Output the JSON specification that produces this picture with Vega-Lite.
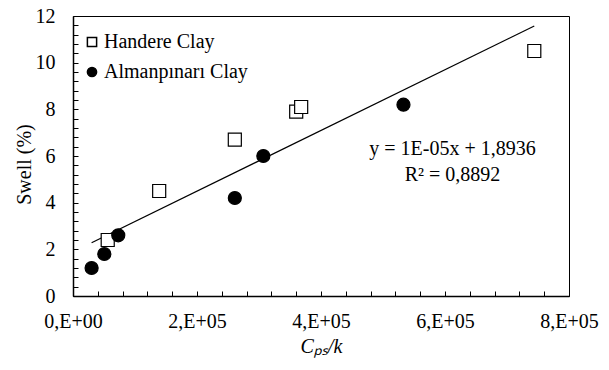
{
  "$schema": "https://vega.github.io/schema/vega-lite/v6.json",
  "width": 496,
  "height": 280,
  "autosize": {"type": "none"},
  "padding": {"left": 73, "top": 16, "right": 40, "bottom": 74},
  "background": "white",
  "config": {
    "font": "Liberation Serif",
    "view": {"stroke": "black", "strokeWidth": 1},
    "style": {
      "guide-label": {"font": "Liberation Serif", "fontSize": 20, "fill": "black"},
      "guide-title": {"font": "Liberation Serif", "fontSize": 20, "fill": "black", "fontWeight": "normal"}
    },
    "axis": {
      "grid": false,
      "domainColor": "black",
      "domainWidth": 1.5,
      "tickColor": "black",
      "tickWidth": 1,
      "tickSize": -5,
      "labelFont": "Liberation Serif",
      "labelColor": "black",
      "labelFontSize": 20,
      "labelFlush": false,
      "labelOverlap": false,
      "titleFont": "Liberation Serif",
      "titleColor": "black",
      "titleFontSize": 20,
      "titleFontWeight": "normal"
    },
    "legend": {
      "labelFont": "Liberation Serif",
      "labelFontSize": 20,
      "labelColor": "black"
    }
  },
  "data": {
    "values": [
      {"series": "Handere Clay", "cpsk": 56000, "swell": 2.4},
      {"series": "Handere Clay", "cpsk": 139000, "swell": 4.5},
      {"series": "Handere Clay", "cpsk": 261000, "swell": 6.7},
      {"series": "Handere Clay", "cpsk": 360000, "swell": 7.9},
      {"series": "Handere Clay", "cpsk": 368000, "swell": 8.1},
      {"series": "Handere Clay", "cpsk": 744000, "swell": 10.5},
      {"series": "Almanpınarı Clay", "cpsk": 30000, "swell": 1.2},
      {"series": "Almanpınarı Clay", "cpsk": 50500, "swell": 1.8},
      {"series": "Almanpınarı Clay", "cpsk": 73000, "swell": 2.6},
      {"series": "Almanpınarı Clay", "cpsk": 261000, "swell": 4.2},
      {"series": "Almanpınarı Clay", "cpsk": 307000, "swell": 6.0},
      {"series": "Almanpınarı Clay", "cpsk": 533000, "swell": 8.2}
    ]
  },
  "encoding": {
    "x": {
      "field": "cpsk",
      "type": "quantitative",
      "scale": {"domain": [0, 800000], "nice": false, "zero": false},
      "axis": {
        "title": "Cₚₛ/k",
        "titleFont": "Liberation Serif",
        "titleFontSize": 20,
        "titleFontStyle": "italic",
        "titlePadding": 5,
        "labelFont": "Liberation Serif",
        "labelFontSize": 20,
        "labelPadding": 20,
        "values": [0, 40000, 80000, 120000, 160000, 200000, 240000, 280000, 320000, 360000, 400000, 440000, 480000, 520000, 560000, 600000, 640000, 680000, 720000, 760000, 800000],
        "labelExpr": "datum.value % 200000 == 0 ? (datum.value == 0 ? '0,E+00' : (datum.value / 100000) + ',E+05') : ''"
      }
    },
    "y": {
      "field": "swell",
      "type": "quantitative",
      "scale": {"domain": [0, 12], "nice": false},
      "axis": {
        "title": "Swell (%)",
        "titleFont": "Liberation Serif",
        "titleFontSize": 20,
        "titlePadding": 1,
        "titleY": 148,
        "labelFont": "Liberation Serif",
        "labelFontSize": 20,
        "labelPadding": 23,
        "values": [0, 0.4, 0.8, 1.2, 1.6, 2, 2.4, 2.8, 3.2, 3.6, 4, 4.4, 4.8, 5.2, 5.6, 6, 6.4, 6.8, 7.2, 7.6, 8, 8.4, 8.8, 9.2, 9.6, 10, 10.4, 10.8, 11.2, 11.6, 12],
        "labelExpr": "abs(datum.value / 2 - round(datum.value / 2)) < 0.001 ? format(datum.value, 'd') : ''"
      }
    }
  },
  "layer": [
    {
      "transform": [{"regression": "swell", "on": "cpsk"}],
      "mark": {"type": "line", "color": "black", "strokeWidth": 1.2},
      "encoding": {}
    },
    {
      "mark": {"type": "point", "filled": false, "stroke": "black", "strokeWidth": 1.2, "opacity": 1},
      "encoding": {
        "shape": {
          "field": "series",
          "type": "nominal",
          "scale": {"domain": ["Handere Clay", "Almanpınarı Clay"], "range": ["square", "circle"]},
          "legend": {
            "title": null,
            "orient": "none",
            "legendX": 9,
            "legendY": 16,
            "padding": 0,
            "symbolSize": 85,
            "labelOffset": 2,
            "rowPadding": 10,
            "encode": {"symbols": {"update": {"stroke": {"value": "black"}, "strokeWidth": {"value": 1.2}}}}
          }
        },
        "fill": {
          "field": "series",
          "type": "nominal",
          "scale": {"domain": ["Handere Clay", "Almanpınarı Clay"], "range": ["white", "black"]},
          "legend": {
            "title": null,
            "orient": "none",
            "legendX": 9,
            "legendY": 16,
            "padding": 0,
            "symbolSize": 85,
            "labelOffset": 2,
            "rowPadding": 10,
            "encode": {"symbols": {"update": {"stroke": {"value": "black"}, "strokeWidth": {"value": 1.2}}}}
          }
        },
        "size": {"value": 170}
      }
    },
    {
      "transform": [{"aggregate": [{"op": "max", "field": "cpsk", "as": "cpsk"}, {"op": "max", "field": "swell", "as": "swell"}]}],
      "mark": {"type": "text", "align": "center", "baseline": "alphabetic", "fontSize": 20, "font": "Liberation Serif", "color": "black"},
      "encoding": {
        "x": {"datum": 612000},
        "y": {"datum": 6.03},
        "text": {"value": "y = 1E-05x + 1,8936"}
      }
    },
    {
      "transform": [{"aggregate": [{"op": "max", "field": "cpsk", "as": "cpsk"}, {"op": "max", "field": "swell", "as": "swell"}]}],
      "mark": {"type": "text", "align": "center", "baseline": "alphabetic", "fontSize": 20, "font": "Liberation Serif", "color": "black"},
      "encoding": {
        "x": {"datum": 612000},
        "y": {"datum": 4.94},
        "text": {"value": "R² = 0,8892"}
      }
    }
  ]
}
